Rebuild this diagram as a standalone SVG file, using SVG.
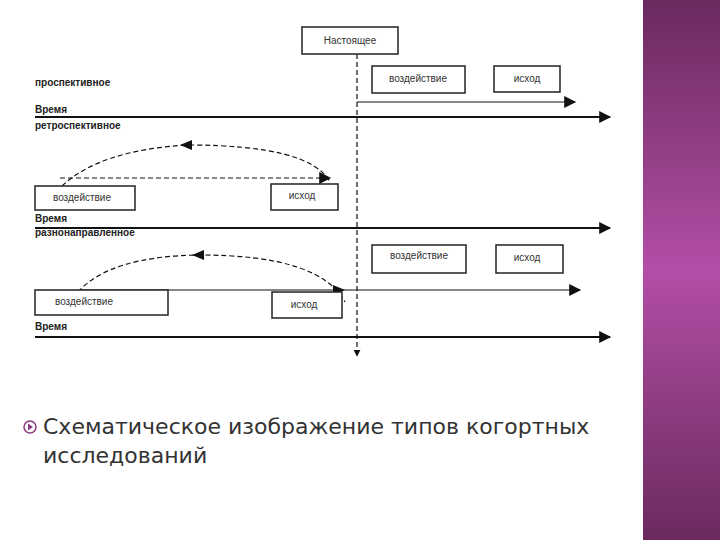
<svg xmlns="http://www.w3.org/2000/svg" width="720" height="540" viewBox="0 0 720 540">
<defs>
<linearGradient id="side" x1="0" y1="0" x2="0" y2="1"><stop offset="0" stop-color="#6a2a5e"/><stop offset="0.5" stop-color="#b34ea6"/><stop offset="1" stop-color="#6a2a5e"/></linearGradient>
<marker id="ah" viewBox="0 0 10 10" refX="9" refY="5" markerWidth="7" markerHeight="7" orient="auto-start-reverse" markerUnits="userSpaceOnUse"><path d="M0,0L10,5L0,10z" fill="#111"/></marker>
<marker id="ahb" viewBox="0 0 10 10" refX="9" refY="5" markerWidth="14" markerHeight="12" orient="auto" markerUnits="userSpaceOnUse"><path d="M0,0L10,5L0,10z" fill="#111"/></marker>
</defs>
<style>
.box{fill:#fff;stroke:#222;stroke-width:1.5}
.t{font-family:"Liberation Sans",Arial,sans-serif;font-size:10px;fill:#333}
.lb{font-family:"Liberation Sans",Arial,sans-serif;font-size:10px;font-weight:bold;fill:#222}
.ax{stroke:#111;stroke-width:2;fill:none}
.th{stroke:#111;stroke-width:1.2;fill:none}
.ds{stroke:#111;stroke-width:1.2;fill:none;stroke-dasharray:5,3}
.big{font-family:"DejaVu Sans",sans-serif;font-size:22px;fill:#333}
</style>
<rect width="720" height="540" fill="#fff"/>
<rect x="643" y="0" width="77" height="540" fill="url(#side)"/>
<g id="connectors">
<line class="ds" x1="357" y1="54" x2="357" y2="356" marker-end="url(#ah)"/>
<line class="th" x1="357" y1="102" x2="575" y2="102" marker-end="url(#ahb)"/>
<line class="ax" x1="35" y1="117" x2="610" y2="117" marker-end="url(#ahb)"/>
<line class="ds" x1="60" y1="178" x2="330" y2="178" marker-end="url(#ahb)"/>
<path class="ds" d="M62,186 Q100,150 188,145 Q310,145 330,182"/>
<path d="M180,145 l12,-5 l0,10z" fill="#111"/>
<line class="ax" x1="35" y1="228" x2="610" y2="228" marker-end="url(#ahb)"/>
<line class="th" x1="80" y1="290" x2="580" y2="290" marker-end="url(#ahb)"/>
<path d="M345,290 l-12,-5 l0,10z" fill="#111"/>
<path class="ds" d="M78,292 Q110,256 200,255 Q320,255 345,302"/>
<path d="M192,255 l12,-5 l0,10z" fill="#111"/>
<line class="ax" x1="35" y1="337" x2="610" y2="337" marker-end="url(#ahb)"/>
</g>
<g id="now"><rect class="box" x="302" y="27" width="96" height="27"/><text class="t" x="350" y="44" text-anchor="middle">Настоящее</text></g>
<g id="labels">
<text class="lb" x="35" y="86">проспективное</text>
<text class="lb" x="35" y="113">Время</text>
<text class="lb" x="35" y="129">ретроспективное</text>
<text class="lb" x="35" y="222">Время</text>
<text class="lb" x="35" y="236">разнонаправленное</text>
<text class="lb" x="35" y="330">Время</text>
</g>
<g id="p1"><rect class="box" x="372" y="66" width="93" height="27"/><text class="t" x="418" y="82" text-anchor="middle">воздействие</text></g>
<g id="p2"><rect class="box" x="494" y="66" width="66" height="26"/><text class="t" x="527" y="82" text-anchor="middle">исход</text></g>
<g id="r1"><rect class="box" x="35" y="186" width="100" height="24"/><text class="t" x="82" y="201" text-anchor="middle">воздействие</text></g>
<g id="r2"><rect class="box" x="271" y="184" width="67" height="26"/><text class="t" x="302" y="199" text-anchor="middle">исход</text></g>
<g id="m1"><rect class="box" x="372" y="245" width="94" height="28"/><text class="t" x="419" y="259" text-anchor="middle">воздействие</text></g>
<g id="m2"><rect class="box" x="496" y="245" width="67" height="28"/><text class="t" x="527" y="261" text-anchor="middle">исход</text></g>
<g id="m3"><rect class="box" x="35" y="290" width="133" height="25"/><text class="t" x="84" y="305" text-anchor="middle">воздействие</text></g>
<g id="m4"><rect class="box" x="272" y="292" width="70" height="26"/><text class="t" x="304" y="308" text-anchor="middle">исход</text></g>
<g id="caption">
<circle cx="30" cy="427" r="6" fill="none" stroke="#8a3a80" stroke-width="1.5"/>
<path d="M28,423.5 L33,427 L28,430.5z" fill="#8a3a80"/>
<text class="big" x="43" y="434">Схематическое изображение типов когортных</text>
<text class="big" x="43" y="463">исследований</text>
</g>
</svg>
